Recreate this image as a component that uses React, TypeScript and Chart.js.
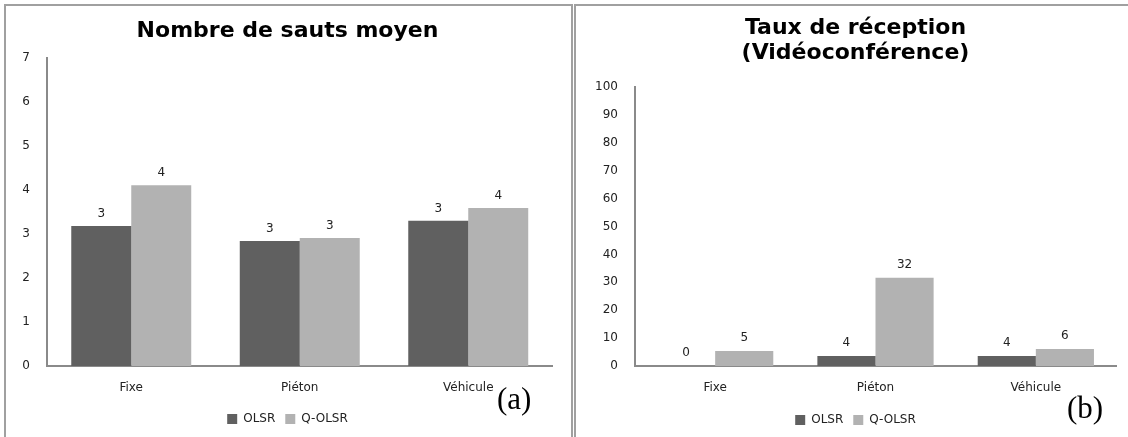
import React, { useEffect, useRef } from "react";
import { Chart, registerables } from "chart.js";

Chart.register(...registerables);

const categories = ["Fixe", "Piéton", "Véhicule"];
const seriesNames = ["OLSR", "Q-OLSR"];
const seriesColors = ["#606060", "#b2b2b2"];

const hopsOLSR = [3.18, 2.84, 3.3];
const hopsQOLSR = [4.11, 2.91, 3.59];

const receptionOLSR = [0, 3.6, 3.6];
const receptionQOLSR = [5.4, 31.6, 6.1];

const hopsTitle = "Nombre de sauts moyen";
const receptionTitle = ["Taux de réception", "(Vidéoconférence)"];

const FONT = "'DejaVu Sans', sans-serif";
const SMALL = 12;

const valueLabels = {
  id: "valueLabels",
  afterDatasetsDraw(chart: any, _args: any, opts: any) {
    const ctx = chart.ctx;
    ctx.save();
    ctx.font = `${SMALL}px ${FONT}`;
    ctx.fillStyle = "#222";
    ctx.textAlign = "center";
    ctx.textBaseline = "middle";
    chart.data.datasets.forEach((ds: any, di: number) => {
      const meta = chart.getDatasetMeta(di);
      meta.data.forEach((el: any, i: number) => {
        const v = ds.data[i];
        ctx.fillText(String(Math.round(v)), el.x, el.y - (opts.offset || 11));
      });
    });
    ctx.restore();
  },
};

type PanelProps = {
  width: number;
  height: number;
  title: string | string[];
  titleLineHeight: number;
  titlePadding: { top: number; bottom: number };
  a: number[];
  b: number[];
  yMax: number;
  yStep: number;
  yWidth: number;
  xHeight: number;
  padLeft: number;
  padRight: number;
  padBottom: number;
  catPct: number;
  labelOffset: number;
};

function BarPanel(p: PanelProps) {
  const ref = useRef<HTMLCanvasElement | null>(null);
  useEffect(() => {
    if (!ref.current) return;
    const chart = new Chart(ref.current, {
      type: "bar",
      data: {
        labels: categories,
        datasets: [
          {
            label: seriesNames[0],
            data: p.a,
            backgroundColor: seriesColors[0],
            borderWidth: 0,
            barPercentage: 1,
            categoryPercentage: p.catPct,
          },
          {
            label: seriesNames[1],
            data: p.b,
            backgroundColor: seriesColors[1],
            borderWidth: 0,
            barPercentage: 1,
            categoryPercentage: p.catPct,
          },
        ],
      },
      options: {
        responsive: false,
        animation: false,
        layout: { padding: { left: p.padLeft, right: p.padRight, top: 0, bottom: p.padBottom } },
        plugins: {
          title: {
            display: true,
            text: p.title,
            color: "#000",
            font: { family: FONT, size: 22, weight: "bold", lineHeight: p.titleLineHeight },
            padding: p.titlePadding,
          },
          legend: {
            display: true,
            position: "bottom",
            labels: {
              color: "#222",
              font: { family: FONT, size: SMALL },
              boxWidth: 10,
              boxHeight: 10,
              padding: 10,
            },
          },
          tooltip: { enabled: false },
          valueLabels: { offset: p.labelOffset },
        } as any,
        scales: {
          x: {
            grid: { display: false, drawTicks: false },
            border: { display: true, color: "#8a8a8a", width: 2 },
            ticks: { color: "#222", font: { family: FONT, size: SMALL }, padding: 15 },
            afterFit: (s: any) => {
              s.height = p.xHeight;
            },
          },
          y: {
            min: 0,
            max: p.yMax,
            grid: { display: false, drawTicks: false },
            border: { display: true, color: "#8a8a8a", width: 2 },
            ticks: {
              stepSize: p.yStep,
              color: "#222",
              font: { family: FONT, size: SMALL },
              padding: 17,
            },
            afterFit: (s: any) => {
              s.width = p.yWidth;
            },
          },
        },
      },
      plugins: [valueLabels],
    });
    return () => chart.destroy();
  }, []);
  return <canvas ref={ref} width={p.width} height={p.height} style={{ display: "block" }} />;
}

export default function App() {
  return (
    <div
      style={{
        position: "absolute",
        left: 0,
        top: 0,
        width: 1128,
        height: 437,
        overflow: "hidden",
        background: "#fff",
      }}
    >
      <div
        style={{
          position: "absolute",
          left: 4,
          top: 4,
          width: 569,
          height: 600,
          boxSizing: "border-box",
          borderLeft: "2px solid #a0a0a0",
          borderTop: "2px solid #a0a0a0",
          borderRight: "2px solid #a0a0a0",
        }}
      >
        <BarPanel
          width={565}
          height={431}
          title={hopsTitle}
          titleLineHeight={1.2}
          titlePadding={{ top: 12.5, bottom: 13.1 }}
          a={hopsOLSR}
          b={hopsQOLSR}
          yMax={7}
          yStep={1}
          yWidth={24.5}
          xHeight={37}
          padLeft={16.5}
          padRight={18.5}
          padBottom={2}
          catPct={0.712}
          labelOffset={12}
        />
        <div
          style={{
            position: "absolute",
            left: 491,
            top: 377,
            fontFamily: "'Liberation Serif', serif",
            fontSize: 31,
            lineHeight: "31px",
            color: "#000",
          }}
        >
          (a)
        </div>
      </div>
      <div
        style={{
          position: "absolute",
          left: 574,
          top: 4,
          width: 600,
          height: 600,
          boxSizing: "border-box",
          borderLeft: "2px solid #a0a0a0",
          borderTop: "2px solid #a0a0a0",
        }}
      >
        <BarPanel
          width={552}
          height={431}
          title={receptionTitle}
          titleLineHeight={25 / 22}
          titlePadding={{ top: 9.5, bottom: 21.5 }}
          a={receptionOLSR}
          b={receptionQOLSR}
          yMax={100}
          yStep={10}
          yWidth={40}
          xHeight={38}
          padLeft={19}
          padRight={12}
          padBottom={1}
          catPct={0.725}
          labelOffset={13}
        />
        <div
          style={{
            position: "absolute",
            left: 491,
            top: 386,
            fontFamily: "'Liberation Serif', serif",
            fontSize: 31,
            lineHeight: "31px",
            color: "#000",
          }}
        >
          (b)
        </div>
      </div>
    </div>
  );
}
